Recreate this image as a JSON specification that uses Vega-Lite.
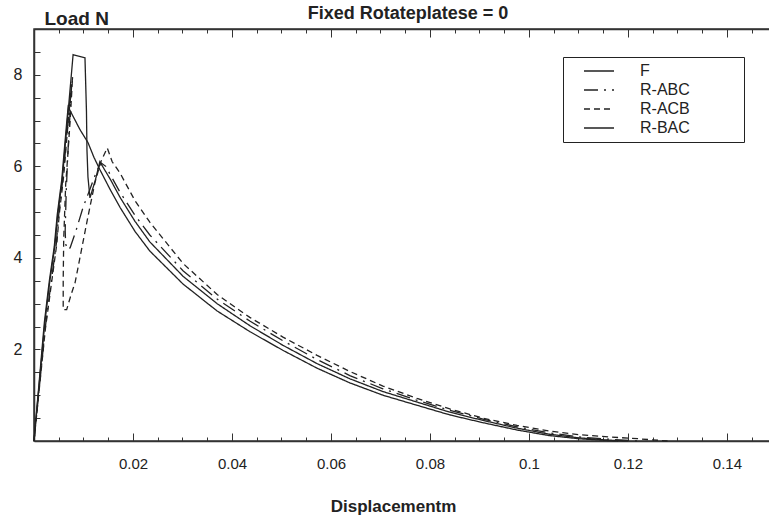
{
  "$schema": "https://vega.github.io/schema/vega-lite/v6.json",
  "width": 736,
  "height": 412,
  "autosize": {"type": "none"},
  "padding": {"left": 34, "top": 29, "right": 0, "bottom": 80},
  "background": "white",
  "title": {"text": "Fixed Rotateplatese = 0", "font": "Liberation Sans", "fontSize": 18, "fontWeight": "bold", "color": "#222", "anchor": "middle", "frame": "group", "dx": 6, "dy": 22, "offset": 8},
  "config": {
    "view": {"stroke": "#333", "strokeWidth": 1.5},
    "axis": {"labelFont": "Liberation Sans", "labelFontSize": 15, "labelColor": "#222", "domainColor": "#333", "domainWidth": 1.5, "tickColor": "#333", "tickWidth": 1, "grid": false}
  },
  "data": {"values": [
    {"s":"F","i":1,"x":0,"y":0},{"s":"F","i":2,"x":0.0022,"y":2.6},{"s":"F","i":3,"x":0.0032,"y":3.5},{"s":"F","i":4,"x":0.0042,"y":4.25},{"s":"F","i":5,"x":0.0048,"y":4.95},{"s":"F","i":6,"x":0.0057,"y":5.7},{"s":"F","i":7,"x":0.0067,"y":6.95},{"s":"F","i":8,"x":0.0079,"y":8.44},{"s":"F","i":9,"x":0.0103,"y":8.37},{"s":"F","i":10,"x":0.0106,"y":7.2},{"s":"F","i":11,"x":0.0107,"y":6.36},{"s":"F","i":12,"x":0.0109,"y":5.77},{"s":"F","i":13,"x":0.0113,"y":5.31},{"s":"F","i":14,"x":0.0124,"y":5.7},{"s":"F","i":15,"x":0.0133,"y":6.1},{"s":"F","i":16,"x":0.0154,"y":5.72},{"s":"F","i":17,"x":0.0174,"y":5.32},{"s":"F","i":18,"x":0.0204,"y":4.8},{"s":"F","i":19,"x":0.0234,"y":4.35},{"s":"F","i":20,"x":0.0301,"y":3.6},{"s":"F","i":21,"x":0.037,"y":3.0},{"s":"F","i":22,"x":0.0436,"y":2.52},{"s":"F","i":23,"x":0.0503,"y":2.09},{"s":"F","i":24,"x":0.0572,"y":1.69},{"s":"F","i":25,"x":0.0638,"y":1.36},{"s":"F","i":26,"x":0.0705,"y":1.08},{"s":"F","i":27,"x":0.0774,"y":0.85},{"s":"F","i":28,"x":0.084,"y":0.63},{"s":"F","i":29,"x":0.0907,"y":0.45},{"s":"F","i":30,"x":0.0976,"y":0.28},{"s":"F","i":31,"x":0.104,"y":0.15},{"s":"F","i":32,"x":0.11,"y":0.07},{"s":"F","i":33,"x":0.116,"y":0.02},{"s":"F","i":34,"x":0.12,"y":0},
    {"s":"R-ABC","i":1,"x":0,"y":0},{"s":"R-ABC","i":2,"x":0.0023,"y":2.5},{"s":"R-ABC","i":3,"x":0.0035,"y":3.5},{"s":"R-ABC","i":4,"x":0.0045,"y":4.3},{"s":"R-ABC","i":5,"x":0.005,"y":4.95},{"s":"R-ABC","i":6,"x":0.0059,"y":5.8},{"s":"R-ABC","i":7,"x":0.0069,"y":7.0},{"s":"R-ABC","i":8,"x":0.0076,"y":7.85},{"s":"R-ABC","i":9,"x":0.0072,"y":7.0},{"s":"R-ABC","i":10,"x":0.0068,"y":6.2},{"s":"R-ABC","i":11,"x":0.0065,"y":5.4},{"s":"R-ABC","i":12,"x":0.0063,"y":4.6},{"s":"R-ABC","i":13,"x":0.0064,"y":4.3},{"s":"R-ABC","i":14,"x":0.0068,"y":4.18},{"s":"R-ABC","i":15,"x":0.0073,"y":4.22},{"s":"R-ABC","i":16,"x":0.0085,"y":4.6},{"s":"R-ABC","i":17,"x":0.0099,"y":5.1},{"s":"R-ABC","i":18,"x":0.0113,"y":5.5},{"s":"R-ABC","i":19,"x":0.0125,"y":5.85},{"s":"R-ABC","i":20,"x":0.0135,"y":6.08},{"s":"R-ABC","i":21,"x":0.0145,"y":6.0},{"s":"R-ABC","i":22,"x":0.0154,"y":5.82},{"s":"R-ABC","i":23,"x":0.0174,"y":5.43},{"s":"R-ABC","i":24,"x":0.0204,"y":4.93},{"s":"R-ABC","i":25,"x":0.0234,"y":4.5},{"s":"R-ABC","i":26,"x":0.0301,"y":3.72},{"s":"R-ABC","i":27,"x":0.037,"y":3.1},{"s":"R-ABC","i":28,"x":0.0436,"y":2.62},{"s":"R-ABC","i":29,"x":0.0503,"y":2.19},{"s":"R-ABC","i":30,"x":0.0572,"y":1.78},{"s":"R-ABC","i":31,"x":0.0638,"y":1.43},{"s":"R-ABC","i":32,"x":0.0705,"y":1.14},{"s":"R-ABC","i":33,"x":0.0774,"y":0.89},{"s":"R-ABC","i":34,"x":0.084,"y":0.67},{"s":"R-ABC","i":35,"x":0.0907,"y":0.48},{"s":"R-ABC","i":36,"x":0.0976,"y":0.31},{"s":"R-ABC","i":37,"x":0.104,"y":0.18},{"s":"R-ABC","i":38,"x":0.11,"y":0.09},{"s":"R-ABC","i":39,"x":0.116,"y":0.04},{"s":"R-ABC","i":40,"x":0.122,"y":0},
    {"s":"R-ACB","i":1,"x":0,"y":0},{"s":"R-ACB","i":2,"x":0.0023,"y":2.45},{"s":"R-ACB","i":3,"x":0.0036,"y":3.5},{"s":"R-ACB","i":4,"x":0.0046,"y":4.3},{"s":"R-ACB","i":5,"x":0.0051,"y":4.95},{"s":"R-ACB","i":6,"x":0.006,"y":5.8},{"s":"R-ACB","i":7,"x":0.007,"y":7.1},{"s":"R-ACB","i":8,"x":0.0078,"y":7.95},{"s":"R-ACB","i":9,"x":0.0073,"y":7.0},{"s":"R-ACB","i":10,"x":0.0068,"y":6.2},{"s":"R-ACB","i":11,"x":0.0064,"y":5.6},{"s":"R-ACB","i":12,"x":0.006,"y":4.4},{"s":"R-ACB","i":13,"x":0.0059,"y":3.5},{"s":"R-ACB","i":14,"x":0.0059,"y":2.87},{"s":"R-ACB","i":15,"x":0.0066,"y":2.87},{"s":"R-ACB","i":16,"x":0.0075,"y":3.2},{"s":"R-ACB","i":17,"x":0.0083,"y":3.46},{"s":"R-ACB","i":18,"x":0.0096,"y":4.18},{"s":"R-ACB","i":19,"x":0.0109,"y":4.9},{"s":"R-ACB","i":20,"x":0.0123,"y":5.64},{"s":"R-ACB","i":21,"x":0.0135,"y":6.1},{"s":"R-ACB","i":22,"x":0.0148,"y":6.4},{"s":"R-ACB","i":23,"x":0.0158,"y":6.1},{"s":"R-ACB","i":24,"x":0.0174,"y":5.85},{"s":"R-ACB","i":25,"x":0.0204,"y":5.25},{"s":"R-ACB","i":26,"x":0.0234,"y":4.78},{"s":"R-ACB","i":27,"x":0.0301,"y":3.88},{"s":"R-ACB","i":28,"x":0.037,"y":3.2},{"s":"R-ACB","i":29,"x":0.0436,"y":2.7},{"s":"R-ACB","i":30,"x":0.0503,"y":2.27},{"s":"R-ACB","i":31,"x":0.0572,"y":1.87},{"s":"R-ACB","i":32,"x":0.0638,"y":1.52},{"s":"R-ACB","i":33,"x":0.0705,"y":1.2},{"s":"R-ACB","i":34,"x":0.0774,"y":0.93},{"s":"R-ACB","i":35,"x":0.084,"y":0.7},{"s":"R-ACB","i":36,"x":0.0907,"y":0.5},{"s":"R-ACB","i":37,"x":0.0976,"y":0.34},{"s":"R-ACB","i":38,"x":0.104,"y":0.22},{"s":"R-ACB","i":39,"x":0.11,"y":0.14},{"s":"R-ACB","i":40,"x":0.116,"y":0.09},{"s":"R-ACB","i":41,"x":0.122,"y":0.05},{"s":"R-ACB","i":42,"x":0.128,"y":0},
    {"s":"R-BAC","i":1,"x":0,"y":0},{"s":"R-BAC","i":2,"x":0.0021,"y":2.6},{"s":"R-BAC","i":3,"x":0.0031,"y":3.5},{"s":"R-BAC","i":4,"x":0.0041,"y":4.25},{"s":"R-BAC","i":5,"x":0.0047,"y":4.95},{"s":"R-BAC","i":6,"x":0.0056,"y":5.7},{"s":"R-BAC","i":7,"x":0.0066,"y":6.95},{"s":"R-BAC","i":8,"x":0.0069,"y":7.3},{"s":"R-BAC","i":9,"x":0.0093,"y":6.8},{"s":"R-BAC","i":10,"x":0.0109,"y":6.52},{"s":"R-BAC","i":11,"x":0.0121,"y":6.2},{"s":"R-BAC","i":12,"x":0.0133,"y":5.93},{"s":"R-BAC","i":13,"x":0.0154,"y":5.49},{"s":"R-BAC","i":14,"x":0.0174,"y":5.1},{"s":"R-BAC","i":15,"x":0.0204,"y":4.58},{"s":"R-BAC","i":16,"x":0.0234,"y":4.15},{"s":"R-BAC","i":17,"x":0.0301,"y":3.43},{"s":"R-BAC","i":18,"x":0.037,"y":2.84},{"s":"R-BAC","i":19,"x":0.0436,"y":2.39},{"s":"R-BAC","i":20,"x":0.0503,"y":1.98},{"s":"R-BAC","i":21,"x":0.0572,"y":1.59},{"s":"R-BAC","i":22,"x":0.0638,"y":1.27},{"s":"R-BAC","i":23,"x":0.0705,"y":1.0},{"s":"R-BAC","i":24,"x":0.0774,"y":0.78},{"s":"R-BAC","i":25,"x":0.084,"y":0.57},{"s":"R-BAC","i":26,"x":0.0907,"y":0.4},{"s":"R-BAC","i":27,"x":0.0976,"y":0.24},{"s":"R-BAC","i":28,"x":0.104,"y":0.12},{"s":"R-BAC","i":29,"x":0.11,"y":0.05},{"s":"R-BAC","i":30,"x":0.116,"y":0.01},{"s":"R-BAC","i":31,"x":0.118,"y":0}
  ]},
  "layer": [
    {
      "mark": {"type": "line", "color": "#222", "strokeWidth": 1.3},
      "encoding": {
        "x": {"field": "x", "type": "quantitative", "scale": {"domain": [0, 0.1487], "nice": false, "zero": false},
          "axis": {"orient": "bottom", "values": [0.005,0.01,0.015,0.02,0.025,0.03,0.035,0.04,0.045,0.05,0.055,0.06,0.065,0.07,0.075,0.08,0.085,0.09,0.095,0.1,0.105,0.11,0.115,0.12,0.125,0.13,0.135,0.14,0.145],
            "labelExpr": "abs(datum.value*50 - round(datum.value*50)) < 0.001 ? format(datum.value, '.2~f') : ''",
            "tickSize": {"condition": {"test": "abs(datum.value*50 - round(datum.value*50)) < 0.001", "value": -8}, "value": -4},
            "labelPadding": 23, "labelFlush": false,
            "title": "Displacementm", "titleFont": "Liberation Sans", "titleFontSize": 17, "titleFontWeight": "bold", "titleColor": "#222",
            "titleX": 359, "titleY": 70, "titleBaseline": "alphabetic", "titleAnchor": "middle", "titleAlign": "center"}},
        "y": {"field": "y", "type": "quantitative", "scale": {"domain": [0, 9], "nice": false, "zero": false},
          "axis": {"orient": "left", "values": [0.5,1,1.5,2,2.5,3,3.5,4,4.5,5,5.5,6,6.5,7,7.5,8,8.5],
            "labelExpr": "datum.value % 2 == 0 ? format(datum.value, 'd') : ''",
            "tickSize": -6, "labelAlign": "right", "labelBaseline": "middle",
            "labelPadding": 18, "labelFontSize": 16,
            "title": "Load N", "titleAngle": 0, "titleAlign": "left", "titleBaseline": "alphabetic", "titleX": 10, "titleY": -5,
            "titleFont": "Liberation Sans", "titleFontSize": 19, "titleFontWeight": "bold", "titleColor": "#222"}},
        "strokeDash": {"field": "s", "type": "nominal",
          "scale": {"domain": ["F", "R-ABC", "R-ACB", "R-BAC"], "range": [[1, 0], [14, 6, 2, 6], [6, 4], [1, 0]]},
          "legend": {"orient": "none", "legendX": 529, "legendY": 28, "title": null, "strokeColor": "#222", "fillColor": "white", "padding": 6,
            "symbolType": "M-3,0H3", "symbolSize": 100, "symbolStrokeWidth": 1.3, "symbolStrokeColor": "#222", "symbolOffset": 22,
            "labelFont": "Liberation Sans", "labelFontSize": 16, "labelColor": "#222", "labelOffset": 33, "rowPadding": 3, "labelLimit": 300,
            "labelExpr": "datum.label + '\u2800\u2800\u2800\u2800'"}},
        "order": {"field": "i", "type": "quantitative"}
      }
    },
    {
      "mark": {"type": "line", "opacity": 0},
      "encoding": {
        "x": {"field": "x", "type": "quantitative",
          "axis": {"orient": "top", "values": [0.005,0.01,0.015,0.02,0.025,0.03,0.035,0.04,0.045,0.05,0.055,0.06,0.065,0.07,0.075,0.08,0.085,0.09,0.095,0.1,0.105,0.11,0.115,0.12,0.125,0.13,0.135,0.14,0.145],
            "labels": false, "title": null,
            "tickSize": {"condition": {"test": "abs(datum.value*50 - round(datum.value*50)) < 0.001", "value": -8}, "value": -4}}},
        "y": {"field": "y", "type": "quantitative", "axis": null},
        "detail": {"field": "s", "type": "nominal"},
        "order": {"field": "i", "type": "quantitative"}
      }
    }
  ],
  "resolve": {"axis": {"x": "independent", "y": "independent"}}
}
